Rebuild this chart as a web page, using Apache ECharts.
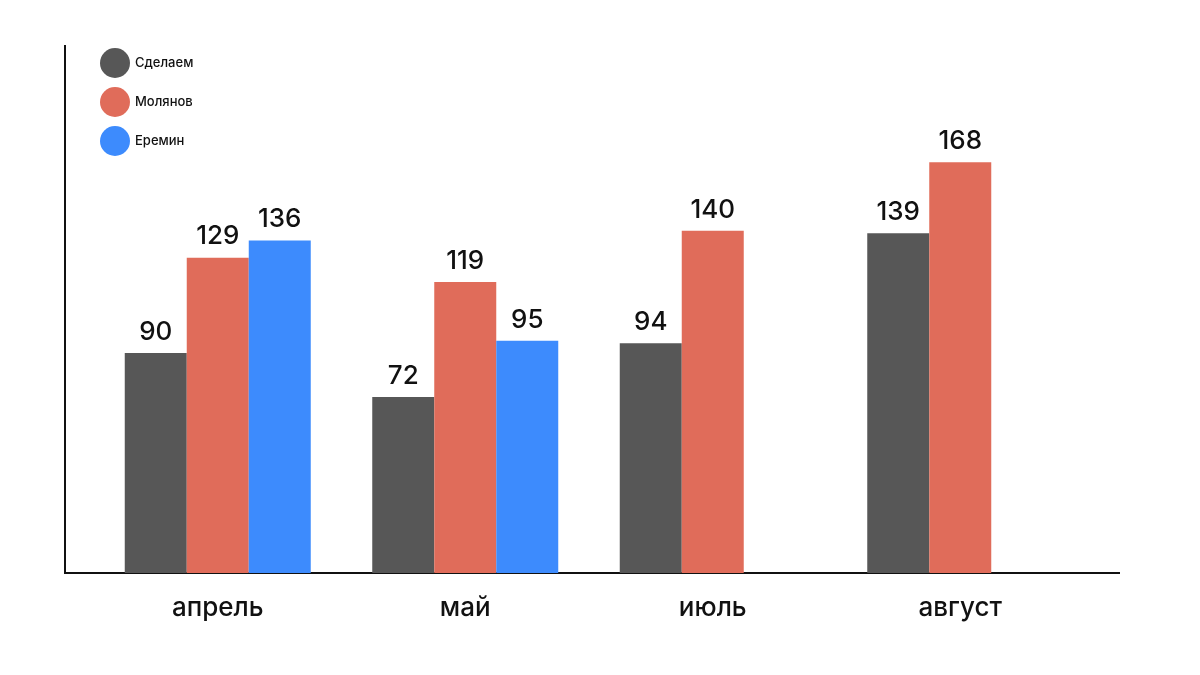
<!DOCTYPE html>
<html><head><meta charset="utf-8">
<script src="https://cdn.jsdelivr.net/npm/echarts@6/dist/echarts.min.js"></script>
<style>html,body{margin:0;background:#fff}#c{width:1200px;height:675px}</style>
</head><body><div id="c"></div>
<script>
const categories = ['апрель','май','июль','август'];
const sdelaem = [90,72,94,139];
const molyanov = [129,119,140,168];
const eremin = [136,95,null,null];
const chart = echarts.init(document.getElementById('c'));
const lbl = {show:true,position:'top',color:'#111',fontSize:26,fontWeight:500,fontFamily:'Inter',distance:8};
chart.setOption({
  animation:false,
  grid:{left:94,right:116,top:45,bottom:102},
  legend:{orient:'vertical',left:95,top:43,icon:'circle',itemWidth:30,itemHeight:30,itemGap:9,
    textStyle:{fontSize:13,fontWeight:500,fontFamily:'Inter',color:'#111'},data:['Сделаем','Молянов','Еремин']},
  xAxis:{type:'category',data:categories,axisLine:{show:false},axisTick:{show:false},
    axisLabel:{fontSize:26,fontWeight:500,fontFamily:'Inter',color:'#111',margin:22}},
  yAxis:{type:'value',min:0,max:216,show:false},
  graphic:[
    {type:'line',shape:{x1:65,y1:45,x2:65,y2:573},style:{stroke:'#111',lineWidth:2}},
    {type:'line',shape:{x1:64,y1:573,x2:1120,y2:573},style:{stroke:'#111',lineWidth:2}}
  ],
  series:[
    {name:'Сделаем',type:'bar',data:sdelaem,barWidth:62,barGap:'0%',itemStyle:{color:'#575757'},label:lbl},
    {name:'Молянов',type:'bar',data:molyanov,barWidth:62,itemStyle:{color:'#e06c5a'},label:lbl},
    {name:'Еремин',type:'bar',data:eremin,barWidth:62,itemStyle:{color:'#3d8bfd'},label:lbl}
  ]
});
</script></body></html>
